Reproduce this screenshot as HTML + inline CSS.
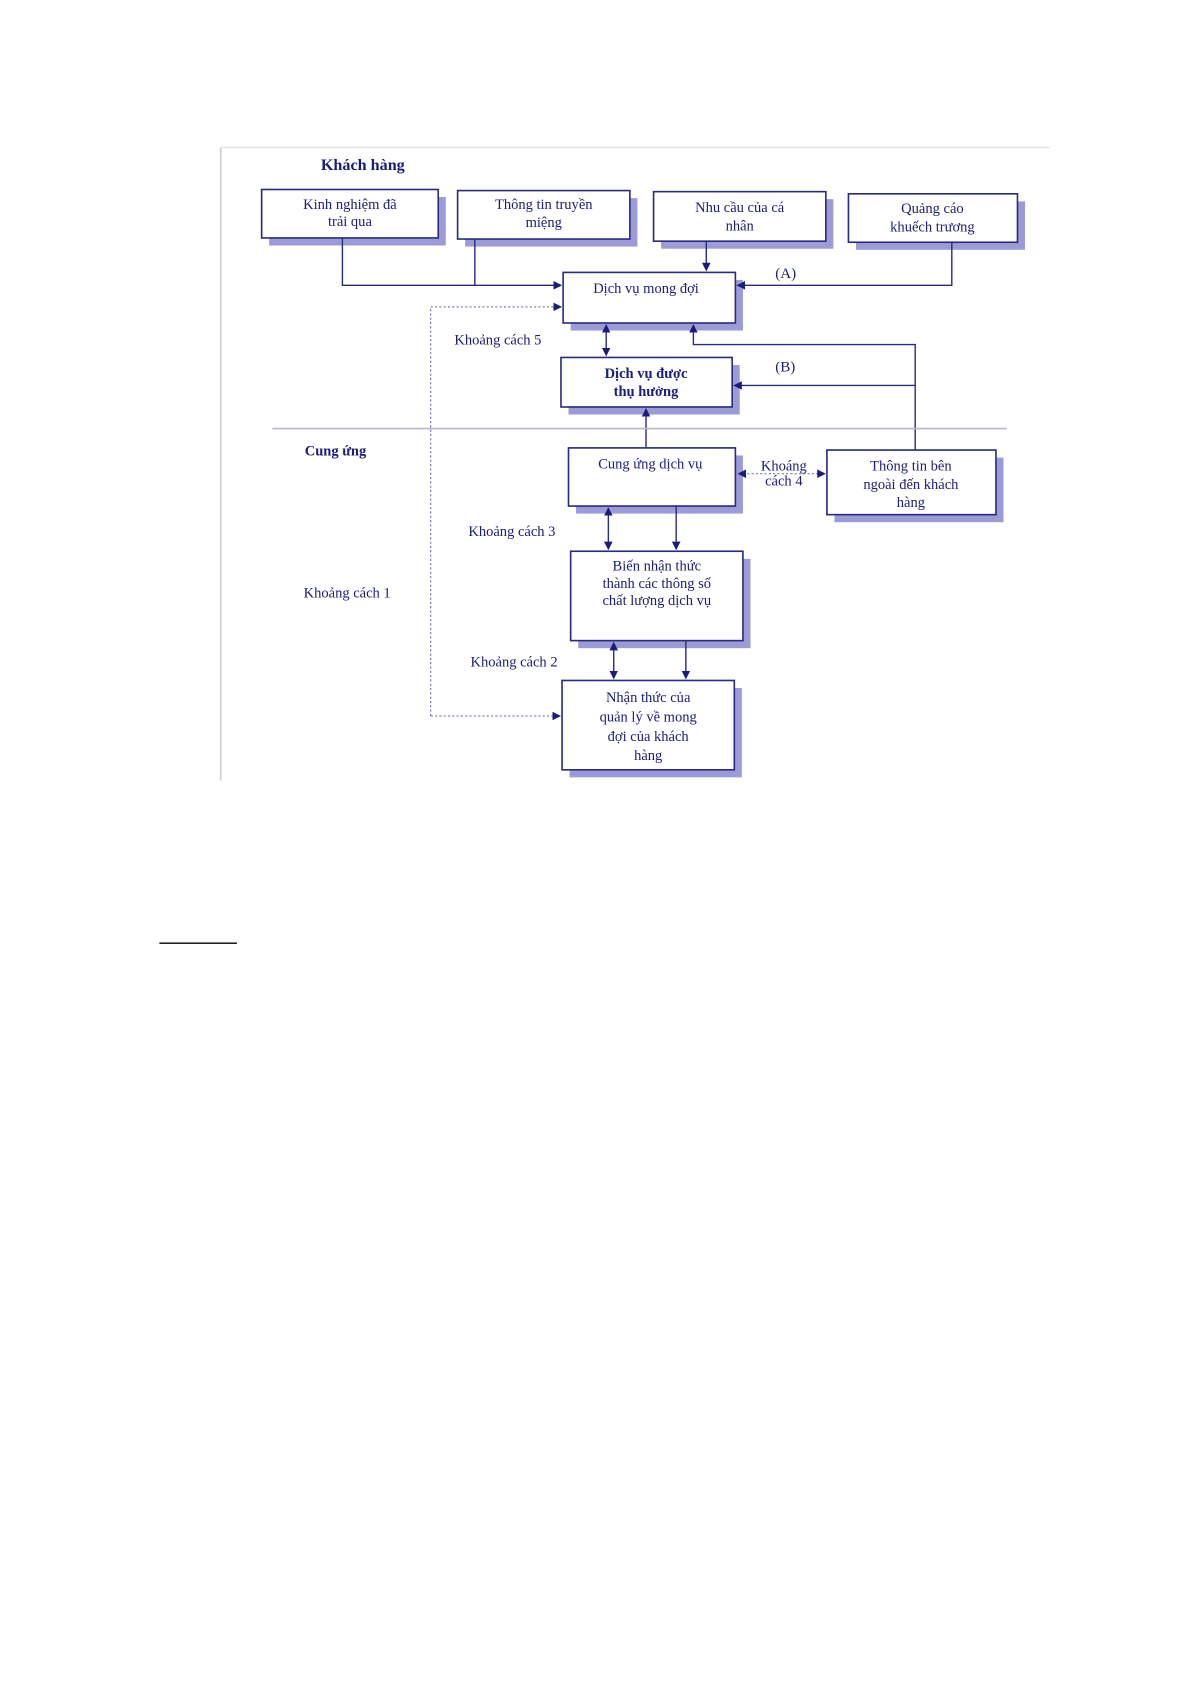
<!DOCTYPE html>
<html><head><meta charset="utf-8"><style>
html,body{margin:0;padding:0;background:#fff;}
svg{display:block;}
text{font-family:"Liberation Serif",serif;fill:#1c1c7a;font-size:13.5px;}
.b{font-weight:bold;}
</style></head><body>
<svg width="1193" height="1685" viewBox="0 0 1108 1565" xmlns="http://www.w3.org/2000/svg">
<defs>
<marker id="ah" markerWidth="8" markerHeight="8" refX="7" refY="4" orient="auto-start-reverse" markerUnits="userSpaceOnUse"><path d="M0,0 L8,4 L0,8 z" fill="#1c1c7a"/></marker>
</defs>
<!-- frame -->
<line x1="205" y1="137" x2="975" y2="137" stroke="#e4e4e4" stroke-width="1.5"/>
<line x1="205" y1="137" x2="205" y2="725" stroke="#cfcfcf" stroke-width="1.5"/>
<text x="298" y="158" class="b" style="font-size:15px">Khách hàng</text>
<g stroke="#2a2a80" stroke-width="1.5" fill="#fff">
<!-- shadows -->
<g fill="#9b9bd8" stroke="none">
<rect x="250" y="183" width="164" height="45"/>
<rect x="432" y="184" width="160" height="45"/>
<rect x="614" y="185" width="160" height="46"/>
<rect x="795" y="187" width="157" height="45"/>
<rect x="530" y="260" width="160" height="47"/>
<rect x="528" y="339" width="159" height="46"/>
<rect x="535" y="423" width="155" height="54"/>
<rect x="775" y="425" width="157" height="60"/>
<rect x="537" y="519" width="160" height="83"/>
<rect x="529" y="639" width="160" height="83"/>
</g>
<rect x="243" y="176" width="164" height="45"/>
<rect x="425" y="177" width="160" height="45"/>
<rect x="607" y="178" width="160" height="46"/>
<rect x="788" y="180" width="157" height="45"/>
<rect x="523" y="253" width="160" height="47"/>
<rect x="521" y="332" width="159" height="46"/>
<rect x="528" y="416" width="155" height="54"/>
<rect x="768" y="418" width="157" height="60"/>
<rect x="530" y="512" width="160" height="83"/>
<rect x="522" y="632" width="160" height="83"/>
</g>
<g stroke="#2a2a80" stroke-width="1.3" fill="none">
<polyline points="318,221 318,265 521,265" marker-end="url(#ah)"/>
<line x1="441" y1="222" x2="441" y2="265"/>
<line x1="656" y1="224" x2="656" y2="251" marker-end="url(#ah)"/>
<polyline points="884,225 884,265 685,265" marker-end="url(#ah)"/>
<line x1="563" y1="302" x2="563" y2="330" marker-start="url(#ah)" marker-end="url(#ah)"/>
<polyline points="850,418 850,320 644,320 644,302" marker-end="url(#ah)"/>
<line x1="850" y1="358" x2="682" y2="358" marker-end="url(#ah)"/>
<line x1="600" y1="416" x2="600" y2="380" marker-end="url(#ah)"/>
<line x1="565" y1="472" x2="565" y2="510" marker-start="url(#ah)" marker-end="url(#ah)"/>
<line x1="628" y1="470" x2="628" y2="510" marker-end="url(#ah)"/>
<line x1="570" y1="597" x2="570" y2="630" marker-start="url(#ah)" marker-end="url(#ah)"/>
<line x1="637" y1="595" x2="637" y2="630" marker-end="url(#ah)"/>
</g>
<g stroke="#6a6ab0" stroke-width="1" fill="none" stroke-dasharray="2,2">
<polyline points="400,665 400,285 521,285" marker-end="url(#ah)"/>
<line x1="400" y1="665" x2="520" y2="665" marker-end="url(#ah)"/>
<line x1="686" y1="440" x2="766" y2="440" marker-start="url(#ah)" marker-end="url(#ah)"/>
</g>
<line x1="253" y1="398" x2="935" y2="398" stroke="#b8b8c8" stroke-width="1.5"/>
<g text-anchor="middle">
<text x="325" y="194">Kinh nghiệm đã</text><text x="325" y="210">trải qua</text>
<text x="505" y="194">Thông tin truyền</text><text x="505" y="211">miệng</text>
<text x="687" y="197">Nhu cầu của cá</text><text x="687" y="214">nhân</text>
<text x="866" y="198">Quảng cáo</text><text x="866" y="215">khuếch trương</text>
<text x="600" y="272">Dịch vụ mong đợi</text>
<text x="600" y="351" class="b">Dịch vụ được</text><text x="600" y="368" class="b">thụ hưởng</text>
<text x="604" y="435">Cung ứng dịch vụ</text>
<text x="846" y="437">Thông tin bên</text><text x="846" y="454">ngoài đến khách</text><text x="846" y="471">hàng</text>
<text x="610" y="530">Biến nhận thức</text><text x="610" y="546">thành các thông số</text><text x="610" y="562">chất lượng dịch vụ</text>
<text x="602" y="652">Nhận thức của</text><text x="602" y="670">quản lý về mong</text><text x="602" y="688">đợi của khách</text><text x="602" y="706">hàng</text>
<text x="728" y="437">Khoáng</text><text x="728" y="451">cách 4</text>
</g>
<text x="720" y="258" style="font-size:14px">(A)</text>
<text x="720" y="345" style="font-size:14px">(B)</text>
<text x="422" y="320">Khoảng cách 5</text>
<text x="283" y="423" class="b">Cung ứng</text>
<text x="435" y="498">Khoảng cách 3</text>
<text x="282" y="555">Khoảng cách 1</text>
<text x="437" y="619">Khoảng cách 2</text>
<line x1="148" y1="876" x2="220" y2="876" stroke="#000" stroke-width="1.2"/>
</svg>
</body></html>
